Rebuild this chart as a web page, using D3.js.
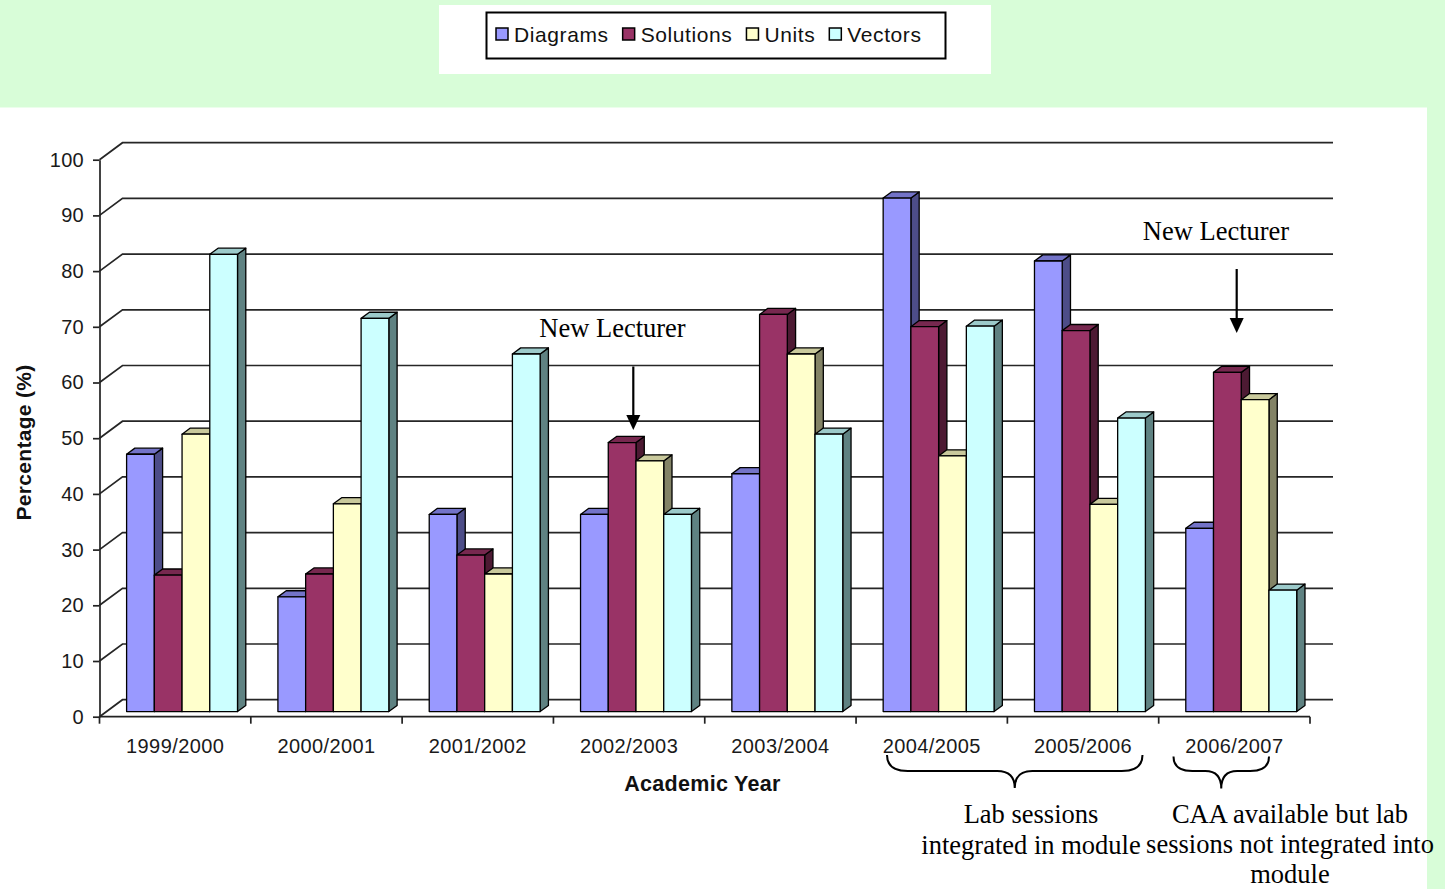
<!DOCTYPE html>
<html>
<head>
<meta charset="utf-8">
<script src="https://cdn.jsdelivr.net/npm/d3@7/dist/d3.min.js"></script>
<style>
  html, body { margin: 0; padding: 0; background: #d8fdd8; }
  svg { display: block; }
</style>
</head>
<body>
<svg id="chart" width="1445" height="889"></svg>
<script>
// Academic years along the category axis
const categories = ["1999/2000", "2000/2001", "2001/2002", "2002/2003", "2003/2004", "2004/2005", "2005/2006", "2006/2007"];
// Series names (legend order)
const seriesNames = ["Diagrams", "Solutions", "Units", "Vectors"];
// Percentage per series per academic year
const diagrams  = [46.2, 20.6, 35.4, 35.4, 42.7, 92.2, 80.9, 32.9];
const solutions = [24.5, 24.7, 28.1, 48.3, 71.3, 69.1, 68.4, 60.9];
const units     = [49.8, 37.3, 24.7, 45.0, 64.2, 45.9, 37.2, 56.0];
const vectors   = [82.1, 70.6, 64.2, 35.4, 49.8, 69.2, 52.7, 21.8];
// Value axis ticks
const yTicks = [0, 10, 20, 30, 40, 50, 60, 70, 80, 90, 100];

const seriesValues = [diagrams, solutions, units, vectors];
const faceFront = ["#9999ff", "#993366", "#ffffcc", "#ccffff"];
const faceTop   = ["#7373c8", "#77284f", "#c9c99c", "#9ccaca"];
const faceSide  = ["#4d4d88", "#4d1a33", "#838366", "#5f8282"];

const svg = d3.select("#chart");

// page panels
svg.append("rect").attr("x", 0).attr("y", 0).attr("width", 1445).attr("height", 889).attr("fill", "#d8fdd8");
svg.append("rect").attr("x", 0).attr("y", 107.5).attr("width", 1427).attr("height", 781.5).attr("fill", "#ffffff");
svg.append("rect").attr("x", 439).attr("y", 5).attr("width", 552).attr("height", 69).attr("fill", "#ffffff");

// 3-D frame geometry: front plane and oblique depth offset
const X0 = 99.5, X1 = 1310;
const DX = 23, DY = -17;
const y = d3.scaleLinear().domain([0, 100]).range([716.7, 159.7]);
const x = d3.scaleBand().domain(categories).range([X0, X1]).padding(0);
const step = x.step();
const groupW = step * 0.733;
const xs = d3.scaleBand().domain(seriesNames).range([0, groupW]).padding(0);
const zFront = 0.3, zDepth = 0.36;

const grid = svg.append("g").attr("fill", "none").attr("stroke", "#262626").attr("stroke-width", 1.7);
// back-wall gridlines with their run along the left wall
yTicks.forEach(t => {
  const yf = y(t), yb = y(t) + DY;
  grid.append("path").attr("d", `M${X0},${yf}L${X0 + DX},${yb}L${X1 + DX},${yb}`);
});

// columns
const bars = svg.append("g").attr("stroke", "#000").attr("stroke-width", 1.3).attr("stroke-linejoin", "round");
categories.forEach((c, i) => {
  seriesNames.forEach((s, k) => {
    const v = seriesValues[k][i];
    const left = x(c) + (step - groupW) / 2 + xs(s) + zFront * DX;
    const right = left + xs.bandwidth();
    const bottom = y(0) + zFront * DY;
    const top = y(v) + zFront * DY;
    const bx = zDepth * DX, by = zDepth * DY;
    const g = bars.append("g");
    g.append("path").attr("fill", faceSide[k])
      .attr("d", `M${right},${top}L${right + bx},${top + by}L${right + bx},${bottom + by}L${right},${bottom}Z`);
    g.append("path").attr("fill", faceTop[k])
      .attr("d", `M${left},${top}L${left + bx},${top + by}L${right + bx},${top + by}L${right},${top}Z`);
    g.append("rect").attr("fill", faceFront[k])
      .attr("x", left).attr("y", top).attr("width", right - left).attr("height", bottom - top);
  });
});

// value axis
const yAxis = svg.append("g").attr("transform", `translate(${X0},0)`)
  .call(d3.axisLeft(y).tickValues(yTicks).tickSize(6.5).tickSizeOuter(0).tickPadding(9));
yAxis.select(".domain").attr("stroke", "#222").attr("stroke-width", 1.7);
yAxis.selectAll(".tick line").attr("stroke", "#222").attr("stroke-width", 1.7);
yAxis.selectAll(".tick text").attr("font-family", "Liberation Sans, Arial, sans-serif")
  .attr("font-size", 20).attr("fill", "#1a1a1a").attr("letter-spacing", 0.3);

// category axis: front floor edge, boundary ticks, labels
const xAxis = svg.append("g").attr("stroke", "#222").attr("stroke-width", 1.7);
xAxis.append("line").attr("x1", X0).attr("x2", X1).attr("y1", y(0)).attr("y2", y(0));
categories.concat([null]).forEach((c, i) => {
  const bx = c === null ? X1 : x(c);
  xAxis.append("line").attr("x1", bx).attr("x2", bx).attr("y1", y(0)).attr("y2", y(0) + 7);
});
svg.append("g").selectAll("text").data(categories).join("text")
  .attr("x", d => x(d) + step / 2).attr("y", 753)
  .attr("text-anchor", "middle")
  .attr("font-family", "Liberation Sans, Arial, sans-serif").attr("font-size", 20)
  .attr("letter-spacing", 0.4).attr("fill", "#1a1a1a")
  .text(d => d);

// axis titles
svg.append("text").attr("x", 702.5).attr("y", 791)
  .attr("text-anchor", "middle").attr("font-family", "Liberation Sans, Arial, sans-serif")
  .attr("font-size", 21.5).attr("font-weight", "bold").attr("fill", "#111").attr("letter-spacing", 0.3)
  .text("Academic Year");
svg.append("text").attr("transform", "translate(30.5,442.5) rotate(-90)")
  .attr("text-anchor", "middle").attr("font-family", "Liberation Sans, Arial, sans-serif")
  .attr("font-size", 21).attr("font-weight", "bold").attr("fill", "#111").attr("letter-spacing", 0.3)
  .text("Percentage (%)");

// legend
svg.append("rect").attr("x", 486.5).attr("y", 12.5).attr("width", 459).attr("height", 46)
  .attr("fill", "#fff").attr("stroke", "#000").attr("stroke-width", 2);
let lx = 496;
seriesNames.forEach((s, k) => {
  svg.append("rect").attr("x", lx).attr("y", 28).attr("width", 12).attr("height", 12)
    .attr("fill", faceFront[k]).attr("stroke", "#000").attr("stroke-width", 1.5);
  const t = svg.append("text").attr("x", lx + 18).attr("y", 41.5)
    .attr("font-family", "Liberation Sans, Arial, sans-serif").attr("font-size", 21)
    .attr("letter-spacing", 0.6).attr("fill", "#111").text(s);
  lx += 18 + t.node().getComputedTextLength() + 14;
});

// annotations
const serif = "Liberation Serif, Times New Roman, serif";
function note(lines, cx, y0, lh) {
  lines.forEach((l, i) => {
    svg.append("text").attr("x", cx).attr("y", y0 + i * lh).attr("text-anchor", "middle")
      .attr("font-family", serif).attr("font-size", 26.5).attr("fill", "#000").text(l);
  });
}
function arrow(ax, y1, y2) {
  svg.append("line").attr("x1", ax).attr("x2", ax).attr("y1", y1).attr("y2", y2 - 12)
    .attr("stroke", "#000").attr("stroke-width", 2.2);
  svg.append("path").attr("d", `M${ax - 7},${y2 - 15}L${ax + 7},${y2 - 15}L${ax},${y2}Z`).attr("fill", "#000");
}
note(["New Lecturer"], 612.5, 337, 0);
arrow(633.3, 366.5, 430);
note(["New Lecturer"], 1216, 240, 0);
arrow(1236.7, 269, 333);

// curly braces grouping years
function brace(xa, xb, yTop, yMid, yTip) {
  const xm = (xa + xb) / 2, r = yMid - yTop;
  const d = `M${xa},${yTop}Q${xa},${yMid} ${xa + r * 1.3},${yMid}L${xm - r * 1.1},${yMid}Q${xm},${yMid} ${xm},${yTip}` +
            `Q${xm},${yMid} ${xm + r * 1.1},${yMid}L${xb - r * 1.3},${yMid}Q${xb},${yMid} ${xb},${yTop}`;
  svg.append("path").attr("d", d).attr("fill", "none").attr("stroke", "#000").attr("stroke-width", 2);
}
brace(887, 1142.5, 755, 771, 788);
brace(1173.5, 1269, 756.5, 771, 788.5);

note(["Lab sessions", "integrated in module"], 1031, 823, 30.5);
note(["CAA available but lab", "sessions not integrated into", "module"], 1290, 822.5, 30);
</script>
</body>
</html>
